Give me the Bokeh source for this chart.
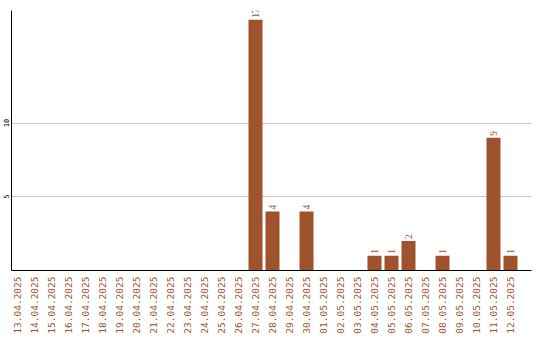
import math
from bokeh.plotting import figure
from bokeh.models import Range1d, FixedTicker, ColumnDataSource, LabelSet
from bokeh.embed import file_html
from bokeh.resources import INLINE

dates = ["13.04.2025", "14.04.2025", "15.04.2025", "16.04.2025", "17.04.2025",
         "18.04.2025", "19.04.2025", "20.04.2025", "21.04.2025", "22.04.2025",
         "23.04.2025", "24.04.2025", "25.04.2025", "26.04.2025", "27.04.2025",
         "28.04.2025", "29.04.2025", "30.04.2025", "01.05.2025", "02.05.2025",
         "03.05.2025", "04.05.2025", "05.05.2025", "06.05.2025", "07.05.2025",
         "08.05.2025", "09.05.2025", "10.05.2025", "11.05.2025", "12.05.2025"]
counts = [0, 0, 0, 0, 0, 0, 0, 0, 0, 0, 0, 0, 0, 0, 17,
          4, 0, 4, 0, 0, 0, 1, 1, 2, 0, 1, 0, 0, 9, 1]
y_ticks = [5, 10]

BAR = "#a0522d"
FONT = "DejaVu Sans Mono"

idx = list(range(len(dates)))
src = ColumnDataSource(dict(x=idx, y=counts))
lab_x = [i for i, c in zip(idx, counts) if c > 0]
lab_y = [c for c in counts if c > 0]
lab_src = ColumnDataSource(dict(x=lab_x, y=lab_y, t=[str(c) for c in lab_y]))

p = figure(width=540, height=340, output_backend="svg", toolbar_location=None,
           x_range=Range1d(-0.353, 30.235), y_range=Range1d(0, 17.63),
           min_border_left=11, min_border_right=9, min_border_top=10,
           min_border_bottom=70)
p.outline_line_color = None
p.background_fill_color = "white"
p.border_fill_color = "white"

p.vbar(x="x", top="y", width=14 / 17, source=src, color=BAR, line_color=None)
labels = LabelSet(x="x", y="y", text="t", source=lab_src, angle=math.pi / 2,
                  text_align="left", text_baseline="middle", y_offset=2,
                  text_color=BAR, text_font=FONT, text_font_size="9.5px")
p.add_layout(labels)

p.xgrid.grid_line_color = None
p.ygrid.grid_line_color = "#c8c8c8"
p.ygrid.ticker = FixedTicker(ticks=y_ticks)

xa = p.xaxis[0]
xa.ticker = FixedTicker(ticks=idx)
xa.major_label_overrides = {i: d for i, d in zip(idx, dates)}
xa.major_label_orientation = math.pi / 2
xa.major_label_text_color = BAR
xa.major_label_text_font = FONT
xa.major_label_text_font_size = "9.5px"
xa.major_tick_line_color = None
xa.minor_tick_line_color = None
xa.major_tick_out = 0
xa.major_tick_in = 0
xa.major_label_standoff = 6
xa.axis_line_color = "black"

ya = p.yaxis[0]
ya.ticker = FixedTicker(ticks=y_ticks)
ya.major_label_orientation = "vertical"
ya.major_label_text_color = "black"
ya.major_label_text_font = FONT
ya.major_label_text_font_size = "7px"
ya.major_tick_line_color = None
ya.minor_tick_line_color = None
ya.major_tick_out = 0
ya.major_tick_in = 0
ya.major_label_standoff = 2
ya.axis_line_color = "black"

open("out.html", "w").write(file_html(p, INLINE))
